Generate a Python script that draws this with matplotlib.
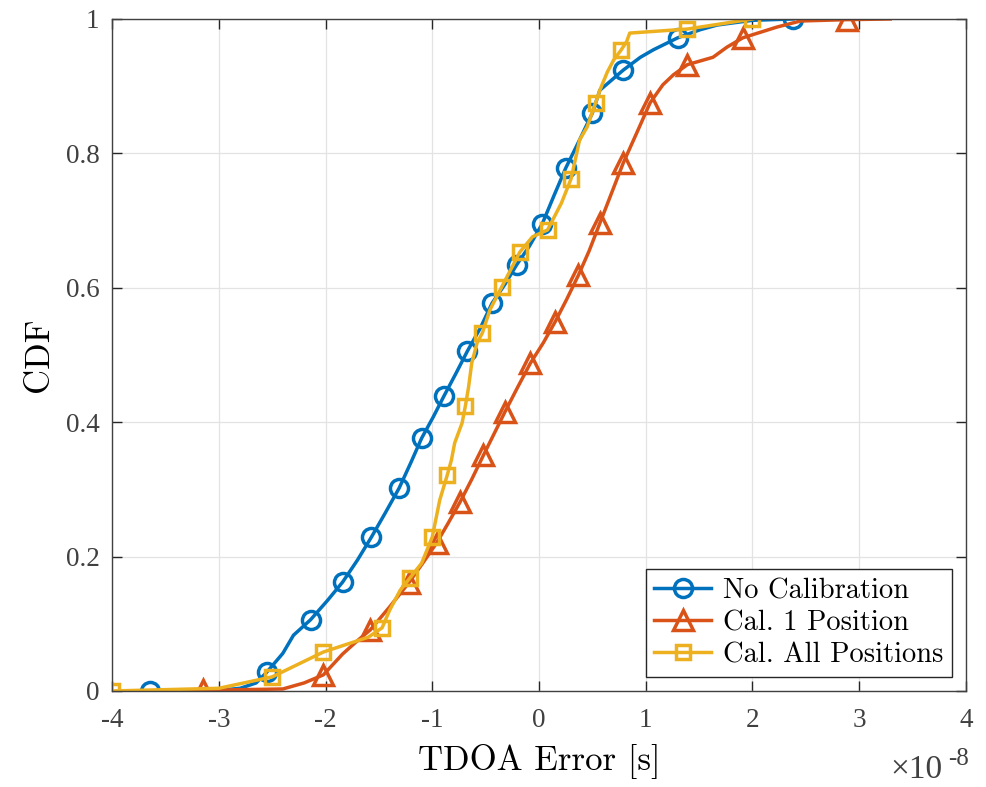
import matplotlib.pyplot as plt

plt.rcParams['axes.unicode_minus'] = False

# TDOA error in units of 1e-8 s, CDF values
no_cal_x = [-3.64, -3.0, -2.8, -2.65, -2.55, -2.4, -2.3, -2.14, -1.98, -1.84,
            -1.7, -1.57, -1.44, -1.31, -1.20, -1.10, -0.99, -0.89, -0.78, -0.67,
            -0.55, -0.44, -0.32, -0.21, -0.09, 0.03, 0.14, 0.25, 0.38, 0.50,
            0.57, 0.79, 0.95, 1.07, 1.30, 1.51, 1.67, 2.0, 2.38]
no_cal_y = [0.0, 0.001, 0.004, 0.012, 0.028, 0.056, 0.083, 0.106, 0.135, 0.162,
            0.195, 0.229, 0.265, 0.302, 0.340, 0.376, 0.408, 0.439, 0.472, 0.506,
            0.540, 0.577, 0.605, 0.634, 0.662, 0.695, 0.737, 0.778, 0.820, 0.860,
            0.894, 0.924, 0.943, 0.954, 0.972, 0.984, 0.991, 0.998, 1.0]
no_cal_marks = [0, 4, 7, 9, 11, 13, 15, 17, 19, 21, 23, 25, 27, 29, 31, 34, 38]

cal1_x = [-3.3, -3.15, -2.4, -2.2, -2.02, -1.84, -1.7, -1.58, -1.4, -1.22,
          -1.09, -0.96, -0.85, -0.74, -0.63, -0.52, -0.42, -0.32, -0.2, -0.08,
          0.04, 0.15, 0.26, 0.37, 0.47, 0.57, 0.68, 0.79, 0.92, 1.04,
          1.16, 1.26, 1.39, 1.63, 1.76, 1.91, 2.23, 2.45, 2.89, 3.29]
cal1_y = [0.0, 0.001, 0.003, 0.012, 0.024, 0.055, 0.075, 0.091, 0.125, 0.161,
          0.19, 0.22, 0.25, 0.281, 0.315, 0.351, 0.383, 0.415, 0.452, 0.488,
          0.518, 0.549, 0.583, 0.619, 0.655, 0.696, 0.741, 0.786, 0.832, 0.875,
          0.902, 0.917, 0.932, 0.943, 0.958, 0.972, 0.988, 0.997, 0.999, 1.0]
cal1_marks = [1, 4, 7, 9, 11, 13, 15, 17, 19, 21, 23, 25, 27, 29, 32, 35, 38]

cal_all_x = [-4.0, -3.0, -2.5, -2.02, -1.6, -1.47, -1.4, -1.3, -1.21, -1.1,
             -1.0, -0.93, -0.86, -0.82, -0.79, -0.72, -0.69, -0.66, -0.63, -0.58,
             -0.53, -0.46, -0.35, -0.18, -0.06, 0.08, 0.21, 0.30, 0.36, 0.38,
             0.45, 0.53, 0.57, 0.64, 0.70, 0.77, 0.82, 0.85, 1.39, 2.0]
cal_all_y = [0.0, 0.004, 0.021, 0.058, 0.08, 0.094, 0.12, 0.15, 0.168, 0.19,
             0.229, 0.284, 0.321, 0.344, 0.369, 0.399, 0.424, 0.452, 0.488, 0.518,
             0.533, 0.567, 0.601, 0.653, 0.676, 0.686, 0.726, 0.762, 0.805, 0.82,
             0.839, 0.875, 0.894, 0.921, 0.939, 0.954, 0.966, 0.979, 0.985, 1.0]
cal_all_marks = [0, 2, 3, 5, 8, 10, 12, 16, 20, 22, 23, 25, 27, 31, 35, 38, 39]

labels = ['No Calibration', 'Cal. 1 Position', 'Cal. All Positions']
x_ticks = [-4, -3, -2, -1, 0, 1, 2, 3, 4]
y_ticks = [0, 0.2, 0.4, 0.6, 0.8, 1]
y_ticklabels = ['0', '0.2', '0.4', '0.6', '0.8', '1']

fig = plt.figure(figsize=(9.87, 7.87), dpi=100)
ax = fig.add_axes([0.1135, 0.122, 0.8652, 0.8539])

ax.plot(no_cal_x, no_cal_y, '-o', color='#0072BD', lw=2.5, ms=13, mew=2.5,
        mfc='none', markevery=no_cal_marks, label=labels[0])
ax.plot(cal1_x, cal1_y, '-^', color='#D95319', lw=2.5, ms=15, mew=2.5,
        mfc='none', markevery=cal1_marks, label=labels[1])
ax.plot(cal_all_x, cal_all_y, '-s', color='#EDB120', lw=2.5, ms=10.5, mew=2.5,
        mfc='none', markevery=cal_all_marks, label=labels[2])

ax.set_xlim(-4, 4)
ax.set_ylim(0, 1)
ax.set_xticks(x_ticks)
ax.set_xticklabels([str(t) for t in x_ticks])
ax.set_yticks(y_ticks)
ax.set_yticklabels(y_ticklabels)
ax.grid(True, color='#e3e3e3', lw=0.9)
ax.set_axisbelow(True)
ax.tick_params(direction='in', top=True, right=True, length=7, width=1,
               colors='#262626', labelsize=19.5)
ax.tick_params(axis='x', pad=12)
ax.tick_params(axis='y', pad=9)
for lab in ax.get_xticklabels() + ax.get_yticklabels():
    lab.set_family('Liberation Serif')
    lab.set_color('#404040')
for sp in ax.spines.values():
    sp.set_color('#404040')
    sp.set_linewidth(1)

ax.set_xlabel('TDOA Error [s]', family='cmr10', fontsize=25, labelpad=8)
ax.set_ylabel('CDF', family='cmr10', fontsize=25, labelpad=8)

leg = ax.legend(loc='lower right', prop={'family': 'cmr10', 'size': 20.5},
                fancybox=False, framealpha=1, edgecolor='#262626',
                handlelength=2.0, handletextpad=0.4, borderpad=0.3,
                labelspacing=0.2, borderaxespad=0.5)
leg.get_frame().set_linewidth(1)

# MATLAB-style exponent label
fig.text(0.9017, 0.011, '\u00d710', family='Liberation Serif', fontsize=24,
         color='#404040', va='baseline')
fig.text(0.9605, 0.028, '-8', family='Liberation Serif', fontsize=18,
         color='#404040', va='baseline')

fig.savefig('out.png', dpi=100)
